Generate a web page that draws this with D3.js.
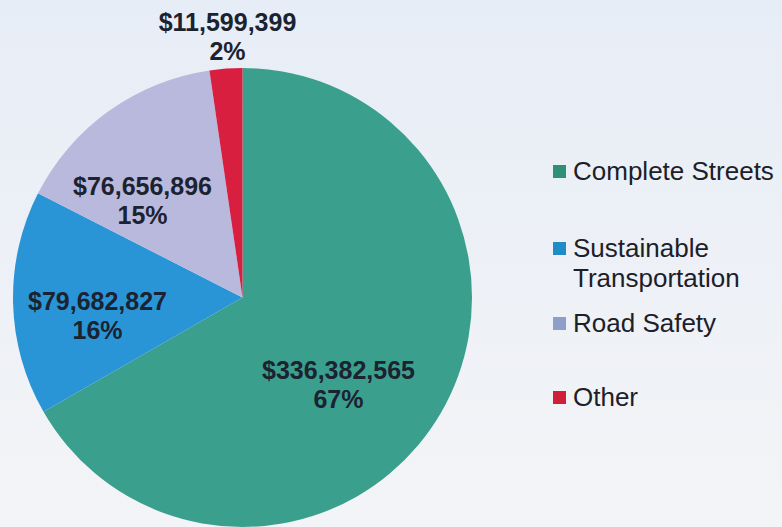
<!DOCTYPE html>
<html>
<head>
<meta charset="utf-8">
<script src="https://cdn.jsdelivr.net/npm/d3@7"></script>
<style>
  html, body { margin: 0; padding: 0; background: #eef1f6; }
  svg { display: block; }
</style>
</head>
<body>
<script>
// ---- data ----
const categories = ["Complete Streets", "Sustainable Transportation", "Road Safety", "Other"];
const amounts = [336382565, 79682827, 76656896, 11599399];
const percentLabels = ["67%", "16%", "15%", "2%"];
const legendLines = [["Complete Streets"], ["Sustainable", "Transportation"], ["Road Safety"], ["Other"]];
const colors = ["#3b9f8e", "#2a95d6", "#b9b9dd", "#d81f3f"];
const legendColors = ["#2f9078", "#1f8cc8", "#8f9ec8", "#d01f38"];

// ---- layout (not data) ----
const W = 782, H = 527;
const cx = 242.5, cy = 297.5, R = 229.5;
// label anchor: [dx of centre, dy of first baseline] relative to pie centre
const labelOffsets = [[96, 81.5], [-145, 12.5], [-100, -102.5], [-15, -266.5]];
const labelLineGap = 28.5;
const legendX = 553, legendTextX = 573;
const legendBaselines = [180, 257, 332, 406];

const svg = d3.select("body").append("svg").attr("width", W).attr("height", H);

const grad = svg.append("defs").append("linearGradient")
  .attr("id", "bg").attr("x1", 0).attr("y1", 0).attr("x2", 0).attr("y2", 1);
grad.append("stop").attr("offset", "0%").attr("stop-color", "#e7edf6");
grad.append("stop").attr("offset", "100%").attr("stop-color", "#f3f4f7");
svg.append("rect").attr("width", W).attr("height", H).attr("fill", "url(#bg)");

const pie = d3.pie().value(d => d).sort(null);
const arc = d3.arc().innerRadius(0).outerRadius(R);
const arcs = pie(amounts);

const g = svg.append("g").attr("transform", `translate(${cx},${cy})`);
g.selectAll("path").data(arcs).join("path")
  .attr("d", arc)
  .attr("fill", (d, i) => colors[i]);

const fmt = d3.format("$,");
const labels = g.selectAll("text.lbl").data(arcs).join("text")
  .attr("class", "lbl")
  .attr("text-anchor", "middle")
  .attr("font-family", "'Liberation Sans', Arial, sans-serif")
  .attr("font-weight", "bold")
  .attr("font-size", 25)
  .attr("fill", "#1b2230");
labels.append("tspan")
  .attr("x", (d, i) => labelOffsets[i][0])
  .attr("y", (d, i) => labelOffsets[i][1])
  .text(d => fmt(d.value));
labels.append("tspan")
  .attr("x", (d, i) => labelOffsets[i][0])
  .attr("y", (d, i) => labelOffsets[i][1] + labelLineGap)
  .text((d, i) => percentLabels[i]);

// ---- legend ----
const lg = svg.append("g");
categories.forEach((c, i) => {
  const by = legendBaselines[i];
  lg.append("rect")
    .attr("x", legendX).attr("y", by - 15)
    .attr("width", 13).attr("height", 13)
    .attr("fill", legendColors[i]);
  const t = lg.append("text")
    .attr("font-family", "'Liberation Sans', Arial, sans-serif")
    .attr("font-size", 26)
    .attr("fill", "#1c2028");
  legendLines[i].forEach((line, j) => {
    t.append("tspan").attr("x", legendTextX).attr("y", by + j * 30).text(line);
  });
});
</script>
</body>
</html>
